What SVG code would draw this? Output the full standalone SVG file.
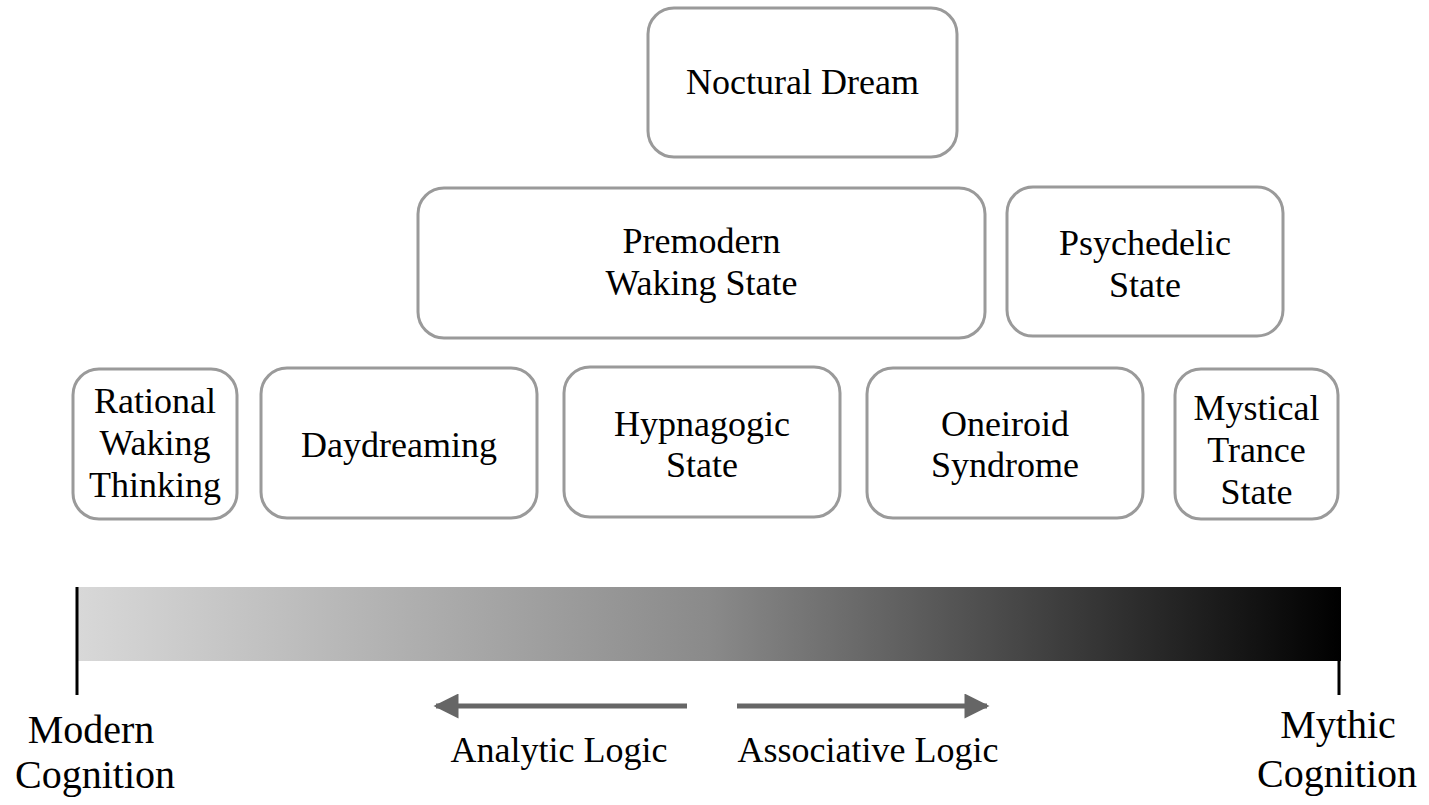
<svg xmlns="http://www.w3.org/2000/svg" width="1429" height="805" viewBox="0 0 1429 805">
<style>
.box{fill:#fff;stroke:#9a9a9a;stroke-width:3}
.t{font-family:"Liberation Serif","Times New Roman",serif;font-size:36px;fill:#000;text-anchor:middle}
.b{font-family:"Liberation Serif","Times New Roman",serif;font-size:40px;fill:#000;text-anchor:middle}
.arr{stroke:#666;stroke-width:5;fill:none}
</style>
<defs>
<linearGradient id="g" x1="0" y1="0" x2="1" y2="0">
<stop offset="0" stop-color="#d8d8d8"/>
<stop offset="0.5" stop-color="#8a8a8a"/>
<stop offset="1" stop-color="#000"/>
</linearGradient>
<marker id="ah" viewBox="0 0 10 10" refX="9" refY="5" markerWidth="5.5" markerHeight="5" orient="auto" markerUnits="strokeWidth">
<path d="M0,0 L10,5 L0,10 Z" fill="#666"/>
</marker>
</defs>
<g id="noctural"><rect class="box" x="648" y="8" width="309" height="149" rx="26"/><text class="t" x="802.5" y="94">Noctural Dream</text></g>
<g id="premodern"><rect class="box" x="418" y="188" width="567" height="150" rx="26"/><text class="t" x="701.5" y="253">Premodern</text><text class="t" x="701.5" y="295">Waking State</text></g>
<g id="psychedelic"><rect class="box" x="1007" y="187" width="276" height="149" rx="26"/><text class="t" x="1145" y="255">Psychedelic</text><text class="t" x="1145" y="297">State</text></g>
<g id="rational"><rect class="box" x="73" y="369" width="164" height="150" rx="26"/><text class="t" x="155" y="413">Rational</text><text class="t" x="155" y="455">Waking</text><text class="t" x="155" y="497">Thinking</text></g>
<g id="daydreaming"><rect class="box" x="261" y="368" width="276" height="150" rx="26"/><text class="t" x="399" y="457">Daydreaming</text></g>
<g id="hypnagogic"><rect class="box" x="564" y="367" width="276" height="150" rx="26"/><text class="t" x="702" y="436">Hypnagogic</text><text class="t" x="702" y="477">State</text></g>
<g id="oneiroid"><rect class="box" x="867" y="368" width="276" height="150" rx="26"/><text class="t" x="1005" y="436">Oneiroid</text><text class="t" x="1005" y="477">Syndrome</text></g>
<g id="mystical"><rect class="box" x="1175" y="369" width="163" height="150" rx="26"/><text class="t" x="1256.5" y="420">Mystical</text><text class="t" x="1256.5" y="462">Trance</text><text class="t" x="1256.5" y="504">State</text></g>
<g id="scale">
<rect x="77" y="587" width="1264" height="74" fill="url(#g)"/>
<line x1="77" y1="587" x2="77" y2="695" stroke="#000" stroke-width="3"/>
<line x1="1339" y1="660" x2="1339" y2="695" stroke="#000" stroke-width="3"/>
<text class="b" x="91" y="743">Modern</text><text class="b" x="95" y="788">Cognition</text>
<text class="b" x="1338" y="738">Mythic</text><text class="b" x="1337" y="787">Cognition</text>
</g>
<g id="connectors">
<line class="arr" x1="687" y1="706" x2="436" y2="706" marker-end="url(#ah)"/>
<line class="arr" x1="737" y1="706" x2="987" y2="706" marker-end="url(#ah)"/>
</g>
<text class="t" x="559" y="762">Analytic Logic</text>
<text class="t" x="868" y="762">Associative Logic</text>
</svg>
